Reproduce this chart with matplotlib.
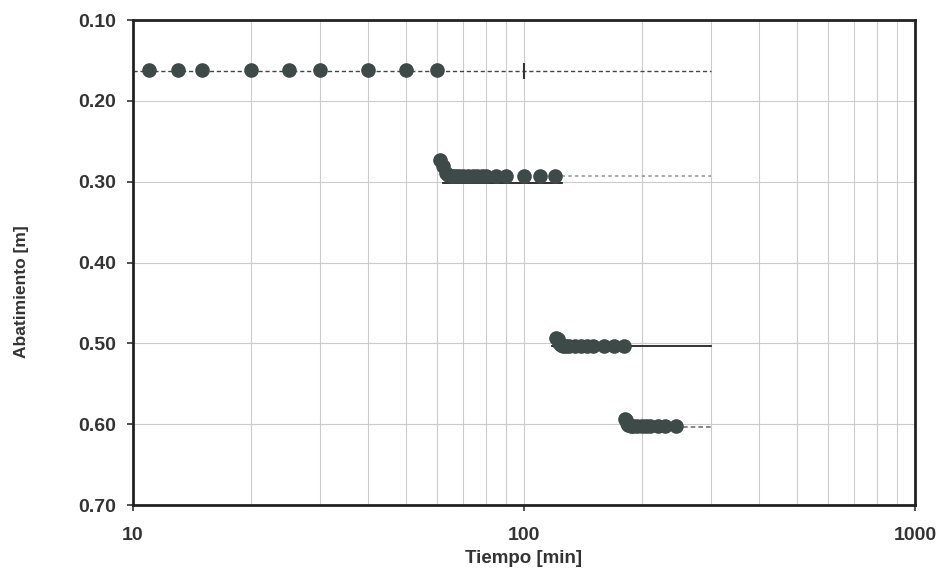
import matplotlib.pyplot as plt
import matplotlib.ticker as mticker

plt.rcParams['font.family'] = ['Liberation Sans', 'DejaVu Sans']

# Datos de la prueba escalonada (tiempo [min], abatimiento [m])
t_esc1 = [11, 13, 15, 20, 25, 30, 40, 50, 60]
s_esc1 = [0.162, 0.162, 0.162, 0.162, 0.162, 0.162, 0.162, 0.162, 0.162]

t_esc2 = [61, 62, 63, 64, 65, 66, 67, 68, 70, 72, 74, 76, 78, 80, 85, 90, 100, 110, 120]
s_esc2 = [0.273, 0.281, 0.289, 0.292, 0.293, 0.293, 0.293, 0.293, 0.293, 0.293,
          0.293, 0.293, 0.293, 0.293, 0.293, 0.293, 0.293, 0.293, 0.293]

t_esc3 = [121, 122, 123, 124, 126, 128, 130, 135, 140, 145, 150, 160, 170, 180]
s_esc3 = [0.493, 0.495, 0.499, 0.502, 0.503, 0.503, 0.503, 0.503, 0.503, 0.503,
          0.503, 0.503, 0.503, 0.503]

t_esc4 = [181, 182, 183, 185, 188, 190, 195, 200, 205, 210, 220, 230, 245]
s_esc4 = [0.593, 0.595, 0.599, 0.601, 0.602, 0.602, 0.602, 0.602, 0.602, 0.602,
          0.602, 0.602, 0.602]

# Lineas de nivel por escalon
lin1_t, lin1_s = [10, 300], [0.163, 0.163]
lin2_t, lin2_s = [120, 300], [0.293, 0.293]
lin2b_t, lin2b_s = [62, 125], [0.302, 0.302]
lin3_t, lin3_s = [118, 300], [0.503, 0.503]
lin4_t, lin4_s = [178, 300], [0.603, 0.603]

x_ticks = [10, 100, 1000]
y_ticks = [0.10, 0.20, 0.30, 0.40, 0.50, 0.60, 0.70]

col_pt = '#3e4a48'
col_txt = '#333333'

fig = plt.figure(figsize=(9.41, 5.8), dpi=100)
ax = fig.add_axes([0.1413, 0.1293, 0.8311, 0.8362])

# lineas
ax.plot(lin1_t, lin1_s, color='#444444', lw=1.0, ls=(0, (3, 2)), zorder=2)
ax.plot(lin2_t, lin2_s, color='#999999', lw=1.2, ls=(0, (2, 2)), zorder=2)
ax.plot(lin2b_t, lin2b_s, color='#222222', lw=1.3, zorder=2)
ax.plot(lin3_t, lin3_s, color='#222222', lw=1.3, zorder=2)
ax.plot(lin4_t, lin4_s, color='#666666', lw=1.1, ls=(0, (3, 2)), zorder=2)
ax.plot([100], [0.163], marker='|', ms=12, mew=1.5, color='#333333', zorder=2)

# puntos medidos
for t, s in [(t_esc1, s_esc1), (t_esc2, s_esc2), (t_esc3, s_esc3), (t_esc4, s_esc4)]:
    ax.plot(t, s, 'o', ms=9.5, color=col_pt, mec=col_pt, zorder=3)

ax.set_xscale('log')
ax.set_xlim(10, 1000)
ax.set_ylim(0.70, 0.10)
ax.set_xticks(x_ticks)
ax.xaxis.set_major_formatter(mticker.FuncFormatter(lambda v, _: f"{int(v)}"))
ax.xaxis.set_minor_formatter(mticker.NullFormatter())
ax.set_yticks(y_ticks)
ax.yaxis.set_major_formatter(mticker.FormatStrFormatter('%.2f'))

ax.grid(which='both', axis='x', color='#cccccc', lw=0.8)
ax.grid(which='major', axis='y', color='#cccccc', lw=0.8)
ax.set_axisbelow(True)

for sp in ax.spines.values():
    sp.set_linewidth(2.0)
    sp.set_color('#222222')

ax.tick_params(axis='both', which='major', labelsize=14, colors=col_txt,
               length=4, width=1.2)
ax.tick_params(axis='x', which='minor', length=0)
ax.tick_params(axis='x', pad=12)
ax.tick_params(axis='y', pad=8)
for lbl in ax.get_xticklabels() + ax.get_yticklabels():
    lbl.set_fontweight('bold')

ax.set_xlabel('Tiempo [min]', fontsize=13.5, fontweight='bold', color=col_txt, labelpad=4)
ax.set_ylabel('Abatimiento [m]', fontsize=12.5, fontweight='bold', color=col_txt, labelpad=32)
ax.yaxis.set_label_coords(-0.133, 0.44)

fig.savefig('out.png', dpi=100)
